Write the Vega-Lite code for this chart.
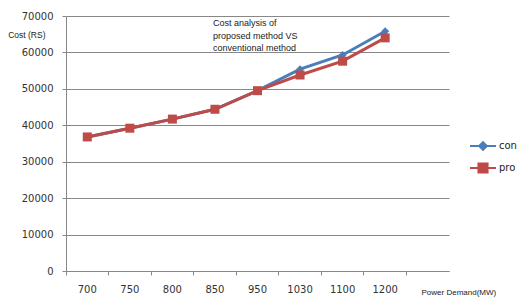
{
  "$schema": "https://vega.github.io/schema/vega-lite/v6.json",
  "autosize": "none",
  "width": 383,
  "height": 255,
  "padding": {"left": 66, "top": 16, "right": 70, "bottom": 27},
  "background": "white",
  "config": {"view": {"stroke": null}},
  "title": {
    "text": ["Cost analysis of", "proposed method VS", "conventional method"],
    "anchor": "start",
    "frame": "group",
    "dx": 147,
    "offset": -42,
    "baseline": "top",
    "lineHeight": 12.5,
    "font": "Liberation Sans",
    "fontSize": 9,
    "fontWeight": "normal",
    "color": "#222222"
  },
  "data": {
    "values": [
      {"demand": "700", "series": "con", "cost": 36800},
      {"demand": "750", "series": "con", "cost": 39200},
      {"demand": "800", "series": "con", "cost": 41700},
      {"demand": "850", "series": "con", "cost": 44400},
      {"demand": "950", "series": "con", "cost": 49500},
      {"demand": "1030", "series": "con", "cost": 55400},
      {"demand": "1100", "series": "con", "cost": 59300},
      {"demand": "1200", "series": "con", "cost": 65800},
      {"demand": "700", "series": "pro", "cost": 36800},
      {"demand": "750", "series": "pro", "cost": 39200},
      {"demand": "800", "series": "pro", "cost": 41700},
      {"demand": "850", "series": "pro", "cost": 44400},
      {"demand": "950", "series": "pro", "cost": 49500},
      {"demand": "1030", "series": "pro", "cost": 53800},
      {"demand": "1100", "series": "pro", "cost": 57600},
      {"demand": "1200", "series": "pro", "cost": 64000}
    ]
  },
  "encoding": {
    "x": {
      "field": "demand",
      "type": "ordinal",
      "scale": {
        "type": "band",
        "domain": ["700", "750", "800", "850", "950", "1030", "1100", "1200", " "],
        "paddingInner": 0,
        "paddingOuter": 0
      },
      "axis": {
        "bandPosition": 0,
        "labelAngle": 0,
        "labelFont": "DejaVu Sans",
        "labelFontSize": 10,
        "labelColor": "#333333",
        "labelPadding": 9,
        "tickSize": 4,
        "tickColor": "#888888",
        "domainColor": "#888888",
        "title": "Power Demand(MW)",
        "titleFont": "Liberation Sans",
        "titleFontSize": 8,
        "titleFontWeight": "normal",
        "titleColor": "#222222",
        "titleAlign": "left",
        "titleBaseline": "middle",
        "titleX": 355,
        "titleY": 21
      }
    },
    "y": {
      "field": "cost",
      "type": "quantitative",
      "scale": {"domain": [0, 70000], "nice": false},
      "axis": {
        "values": [0, 10000, 20000, 30000, 40000, 50000, 60000, 70000],
        "format": "d",
        "labelFont": "DejaVu Sans",
        "labelFontSize": 10,
        "labelColor": "#333333",
        "labelPadding": 9,
        "tickSize": 4,
        "tickColor": "#888888",
        "domainColor": "#888888",
        "grid": true,
        "gridColor": "#888888",
        "title": "Cost (RS)",
        "titleFont": "Liberation Sans",
        "titleFontSize": 8.5,
        "titleFontWeight": "normal",
        "titleColor": "#222222",
        "titleAngle": 0,
        "titleAlign": "right",
        "titleBaseline": "middle",
        "titleX": -21,
        "titleY": 18
      }
    },
    "color": {
      "field": "series",
      "type": "nominal",
      "scale": {"domain": ["con", "pro"], "range": ["#4A7EBB", "#BE4B48"]},
      "legend": {
        "orient": "none",
        "legendX": 403,
        "legendY": 116,
        "title": null,
        "padding": 0,
        "symbolSize": 676,
        "symbolStrokeWidth": 2,
        "labelOffset": 2,
        "labelFont": "DejaVu Sans",
        "labelFontSize": 10,
        "labelColor": "#222222",
        "rowPadding": -2,
        "encode": {
          "symbols": {
            "update": {
              "shape": {"signal": "datum.value === 'con' ? 'M-1,0H1M0,-0.3L0.3,0L0,0.3L-0.3,0Z' : 'M-1,0H1M-0.35,-0.35H0.35V0.35H-0.35Z'"},
              "stroke": {"scale": "color", "field": "value"},
              "fill": {"scale": "color", "field": "value"},
              "strokeWidth": {"value": 2},
              "opacity": {"value": 1}
            }
          }
        }
      }
    }
  },
  "layer": [
    {
      "mark": {"type": "line", "strokeWidth": 3}
    },
    {
      "transform": [{"filter": "datum.series === 'con'"}],
      "mark": {"type": "point", "filled": true, "opacity": 1, "shape": "diamond", "size": 64}
    },
    {
      "transform": [{"filter": "datum.series === 'pro'"}],
      "mark": {"type": "point", "filled": true, "opacity": 1, "shape": "square", "size": 81}
    }
  ]
}
